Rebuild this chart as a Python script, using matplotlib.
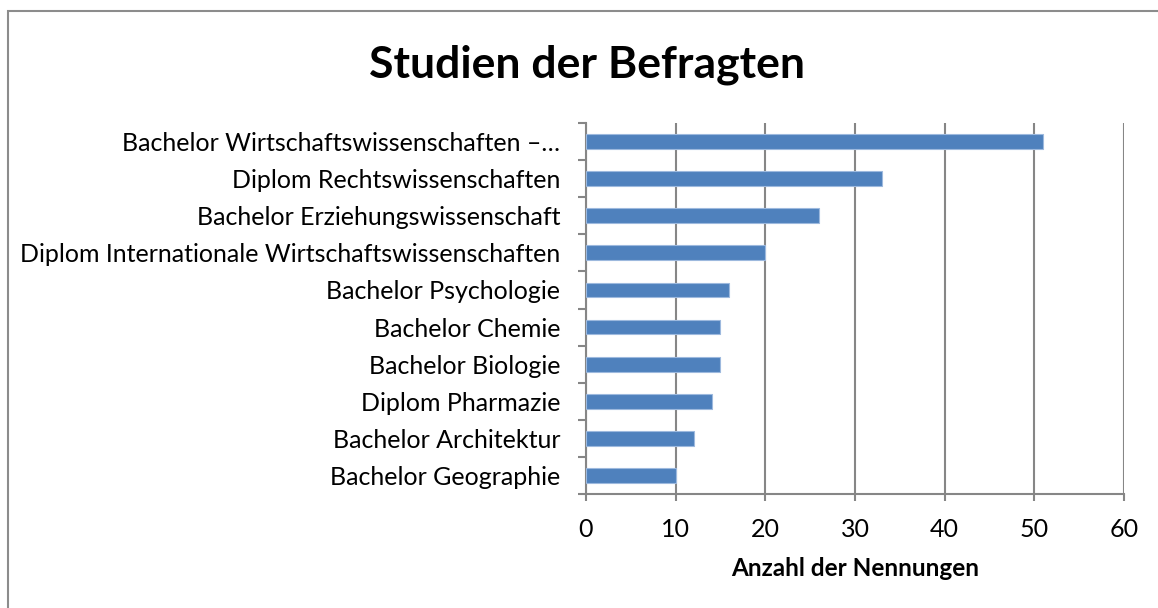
import matplotlib
matplotlib.use("Agg")
import matplotlib.pyplot as plt
from matplotlib.patches import Rectangle
import numpy as np

categories = [
    "Bachelor Wirtschaftswissenschaften –…",
    "Diplom Rechtswissenschaften",
    "Bachelor Erziehungswissenschaft",
    "Diplom Internationale Wirtschaftswissenschaften",
    "Bachelor Psychologie",
    "Bachelor Chemie",
    "Bachelor Biologie",
    "Diplom Pharmazie",
    "Bachelor Architektur",
    "Bachelor Geographie",
]
values = [51, 33, 26, 20, 16, 15, 15, 14, 12, 10]
x_ticks = [0, 10, 20, 30, 40, 50, 60]

plt.rcParams['font.family'] = ['Lato', 'DejaVu Sans']

W, H = 1158, 608
fig = plt.figure(figsize=(W / 100, H / 100), dpi=100)
fig.patch.set_facecolor("white")

# outer chart border (top and left visible)
fig.add_artist(Rectangle((8 / W, -0.05), 1.2, (H - 11) / H + 0.05,
                         transform=fig.transFigure, fill=False,
                         edgecolor="#8c8c8c", linewidth=1.5))

ax = fig.add_axes([586 / W, 1 - 494 / H, (1124 - 586) / W, (494 - 123) / H])
n = len(categories)
ypos = np.arange(n)[::-1]
ax.barh(ypos, values, height=0.4, color="#4F81BD", edgecolor="#9DB9DE",
        linewidth=0.8, zorder=3)

ax.set_xlim(0, 60)
ax.set_ylim(-0.5, n - 0.5)
ax.set_xticks(x_ticks)
ax.set_xticklabels([str(t) for t in x_ticks], fontsize=18)
ax.set_yticks(ypos)
ax.set_yticklabels(categories, fontsize=18)
ax.set_yticks(np.arange(-0.5, n, 1.0), minor=True)
ax.tick_params(axis='y', which='major', length=0, pad=18.5)
ax.tick_params(axis='y', which='minor', length=6, width=1.5, color="#868686",
               direction='out')
ax.tick_params(axis='x', which='major', length=5, width=1.5, color="#868686",
               direction='out', pad=12)

ax.grid(axis='x', color="#868686", linewidth=1.5, zorder=0)
for s in ['top', 'right']:
    ax.spines[s].set_visible(False)
for s in ['left', 'bottom']:
    ax.spines[s].set_color("#868686")
    ax.spines[s].set_linewidth(1.5)

ax.set_xlabel("Anzahl der Nennungen", fontsize=17.5, fontweight='bold', labelpad=12)

fig.text(587 / W, 1 - 65 / H, "Studien der Befragten", fontsize=32,
         fontweight='bold', ha='center', va='center')

fig.savefig("out.png", dpi=100, facecolor="white")
